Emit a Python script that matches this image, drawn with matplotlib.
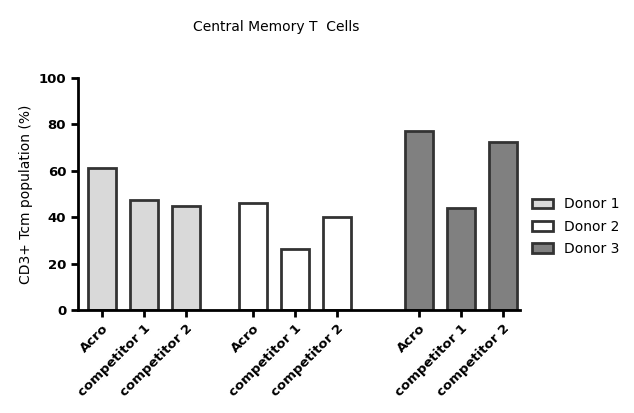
import matplotlib.pyplot as plt

labels = ['Acro', 'competitor 1', 'competitor 2']
donors = ['Donor 1', 'Donor 2', 'Donor 3']
values = [
    [61.2, 47.4, 44.8],
    [46.0, 26.3, 40.0],
    [77.0, 44.0, 72.4],
]
colors = ['#d9d9d9', '#ffffff', '#808080']
offsets = [0, 3.6, 7.55]

fig = plt.figure(figsize=(6.34, 4.13), dpi=100)
ax = fig.add_axes([0.123, 0.249, 0.697, 0.562])

ticks, ticklabels = [], []
for d, vals, c, off in zip(donors, values, colors, offsets):
    xs = [off + i for i in range(len(vals))]
    ax.bar(xs, vals, width=0.67, color=c, edgecolor='#333333', linewidth=2, label=d)
    ticks += xs
    ticklabels += labels

ax.set_xticks(ticks)
ax.set_xticklabels(ticklabels, rotation=45, ha='right', rotation_mode='anchor',
                   fontsize=9.5, fontweight='bold')
ax.set_xlim(-0.57, 9.95)
ax.set_ylim(0, 100)
ax.set_yticks(range(0, 101, 20))
ax.tick_params(axis='y', labelsize=9.5, width=2, length=5)
ax.tick_params(axis='x', width=2, length=5)
for lbl in ax.get_yticklabels():
    lbl.set_fontweight('bold')
ax.spines['top'].set_visible(False)
ax.spines['right'].set_visible(False)
ax.spines['left'].set_linewidth(2)
ax.spines['bottom'].set_linewidth(2)
ax.set_ylabel('CD3+ Tcm population (%)', fontsize=10)
fig.text(0.435, 0.925, 'Central Memory T  Cells', ha='center', fontsize=10)
ax.legend(loc='center left', bbox_to_anchor=(1.0, 0.36), frameon=False, fontsize=10,
          handlelength=1.5, handletextpad=0.8, labelspacing=0.6)

plt.savefig('out.png')
